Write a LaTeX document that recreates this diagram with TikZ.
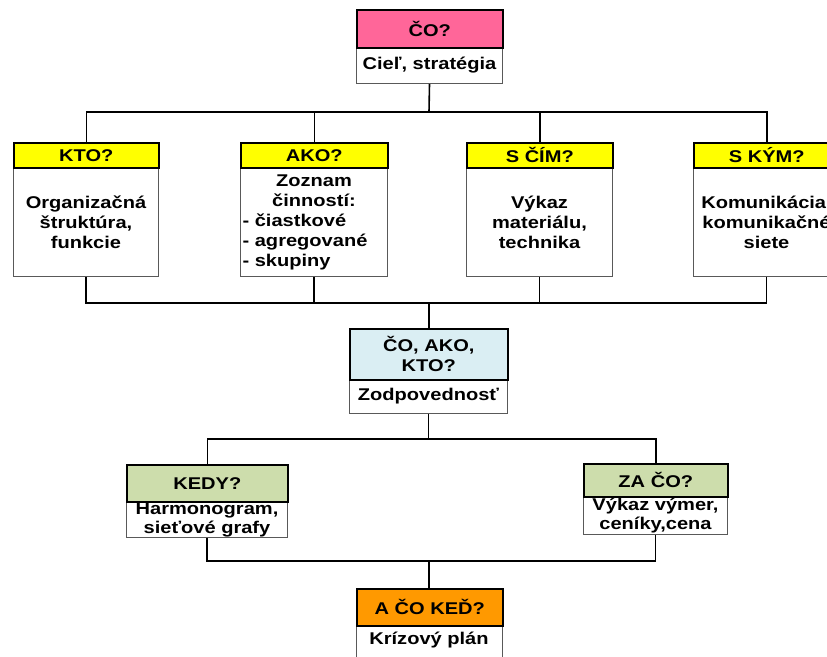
\documentclass[tikz,border=0pt]{standalone}
\usepackage{fontspec}
\setmainfont{Liberation Sans}[FakeStretch=1.18]
\definecolor{cPink}{RGB}{255,102,153}
\definecolor{cYellow}{RGB}{255,255,0}
\definecolor{cBlue}{RGB}{218,238,243}
\definecolor{cGreen}{RGB}{205,221,172}
\definecolor{cOrange}{RGB}{255,153,0}
\begin{document}
\begin{tikzpicture}[x=1pt,y=-1pt,
  font={\bfseries\fontsize{17}{20}\selectfont},
  hdr/.style={draw=black, line width=1.6pt, anchor=north west, inner sep=1pt, align=center},
  bdy/.style={draw=gray!70!black, line width=1pt, fill=white, anchor=north west, inner sep=1pt, align=center},
  conn/.style={draw=black, line width=1.6pt}]
\fill[white] (0,0) rectangle (827,656);
\clip (0,0) rectangle (827,656);
% top
\node[bdy, minimum width=146pt, minimum height=36pt] (coB) at (356,47) {Cieľ, stratégia};
\node[hdr, fill=cPink, minimum width=146pt, minimum height=38pt] (coH) at (356,9) {ČO?};
% row
\node[bdy, minimum width=145pt, minimum height=109pt] (ktoB) at (13,167) {Organizačná\\štruktúra,\\funkcie};
\node[hdr, fill=cYellow, minimum width=145pt, minimum height=25pt] (ktoH) at (13,142) {KTO?};
\node[bdy, minimum width=147pt, minimum height=109pt, text width=143pt, align=left] (akoB) at (240,167)
  {\makebox[143pt][c]{Zoznam}\\\makebox[143pt][c]{činností:}\\- čiastkové\\- agregované\\- skupiny};
\node[hdr, fill=cYellow, minimum width=147pt, minimum height=25pt] (akoH) at (240,142) {AKO?};
\node[bdy, minimum width=146pt, minimum height=109pt] (scimB) at (466,167) {Výkaz\\materiálu,\\technika};
\node[hdr, fill=cYellow, minimum width=146pt, minimum height=25pt] (scimH) at (466,142) {S ČÍM?};
\node[bdy, minimum width=146pt, minimum height=109pt] (skymB) at (693,167) {Komunikácia\phantom{,}\\komunikačné\\siete};
\node[hdr, fill=cYellow, minimum width=146pt, minimum height=25pt] (skymH) at (693,142) {S KÝM?};
% middle
\node[bdy, minimum width=158pt, minimum height=34pt] (midB) at (349,379) {Zodpovednosť};
\node[hdr, fill=cBlue, minimum width=158pt, minimum height=51pt] (midH) at (349,328) {ČO, AKO,\\KTO?};
% lower
\node[bdy, minimum width=161pt, minimum height=36pt, font={\bfseries\fontsize{17}{19}\selectfont}] (kedyB) at (126,501) {Harmonogram,\\sieťové grafy};
\node[hdr, fill=cGreen, minimum width=161pt, minimum height=37pt] (kedyH) at (126,464) {KEDY?};
\node[bdy, minimum width=144pt, minimum height=38pt, font={\bfseries\fontsize{17}{19}\selectfont}] (zacoB) at (583,496) {Výkaz výmer,\\ceníky,cena};
\node[hdr, fill=cGreen, minimum width=144pt, minimum height=33pt] (zacoH) at (583,463) {ZA ČO?};
% bottom
\node[bdy, minimum width=146pt, minimum height=40pt] (acoB) at (356,625) {};
\node (acoT) at (429,640) {Krízový plán};
\node[hdr, fill=cOrange, minimum width=146pt, minimum height=37pt] (acoH) at (356,588) {A ČO KEĎ?};
% connectors
\coordinate (j1) at (429,112);
\coordinate (j2) at (429,303);
\coordinate (j3) at (429,439);
\coordinate (j4) at (429,561);
\draw[conn] (coB.south) -- (j1);
\draw[conn] (ktoH.north) -- (ktoH.north |- j1) -- (skymH.north |- j1) -- (skymH.north);
\draw[conn] (akoH.north) -- (akoH.north |- j1);
\draw[conn] (scimH.north) -- (scimH.north |- j1);
\draw[conn] (ktoB.south) -- (ktoB.south |- j2) -- (skymB.south |- j2) -- (skymB.south);
\draw[conn] (akoB.south) -- (akoB.south |- j2);
\draw[conn] (scimB.south) -- (scimB.south |- j2);
\draw[conn] (j2) -- (j2 |- midH.north);
\draw[conn] (midB.south) -- (midB.south |- j3);
\draw[conn] (kedyH.north) -- (kedyH.north |- j3) -- (zacoH.north |- j3) -- (zacoH.north);
\draw[conn] (kedyB.south) -- (kedyB.south |- j4) -- (zacoB.south |- j4) -- (zacoB.south);
\draw[conn] (j4) -- (j4 |- acoH.north);
\end{tikzpicture}
\end{document}
